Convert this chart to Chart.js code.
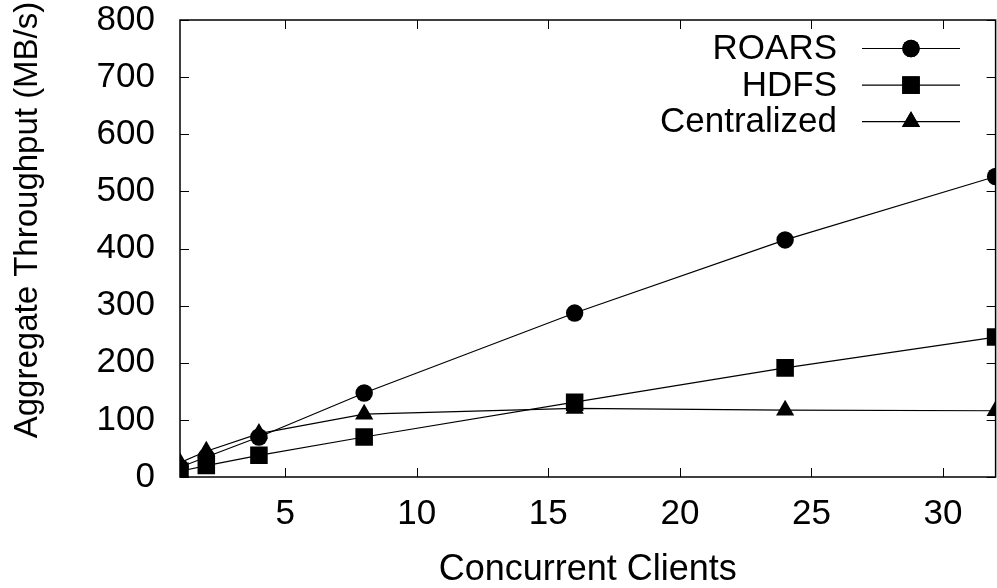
<!DOCTYPE html>
<html>
<head>
<meta charset="utf-8">
<script src="https://cdn.jsdelivr.net/npm/chart.js@4/dist/chart.umd.min.js"></script>
<style>
  html, body { margin: 0; padding: 0; background: #fff; overflow: hidden; }
  #wrap { width: 1008px; height: 588px; }
</style>
</head>
<body>
<div id="wrap"><canvas id="chart" width="1008" height="588"></canvas></div>
<script>
// Concurrent clients vs aggregate throughput
const clients = [1, 2, 4, 8, 16, 24, 32];
const roars = [17, 35, 70, 147, 287, 415, 526];
const hdfs = [10, 20, 38, 70, 131, 191, 245];
const centralized = [25, 45, 76, 110, 120, 117, 116];
const xTicks = [5, 10, 15, 20, 25, 30];
const yTicks = [0, 100, 200, 300, 400, 500, 600, 700, 800];

const FONT = '"Liberation Sans", Arial, sans-serif';
const SIZE = 35;
const Y_TITLE = 'Aggregate Throughput (MB/s)';

const series = [
    { label: 'ROARS', values: roars, style: 'circle', radius: 8.7 },
    { label: 'HDFS', values: hdfs, style: 'rect', radius: 12.4 },
    { label: 'Centralized', values: centralized, style: 'triangle', radius: 10.5 }
];

// gnuplot-like frame, inward ticks, y title and legend
const framePlugin = {
    id: 'frame',
    afterDraw(chart) {
        const { ctx, chartArea: a, scales } = chart;
        ctx.save();
        ctx.strokeStyle = '#000';
        ctx.lineWidth = 1.5;
        ctx.strokeRect(a.left, a.top, a.right - a.left, a.bottom - a.top);
        ctx.beginPath();
        xTicks.forEach(v => {
            const x = Math.round(scales.x.getPixelForValue(v)) + 0.5;
            ctx.moveTo(x, a.bottom); ctx.lineTo(x, a.bottom - 9);
            ctx.moveTo(x, a.top); ctx.lineTo(x, a.top + 9);
        });
        yTicks.forEach(v => {
            const y = Math.round(scales.y.getPixelForValue(v)) + 0.5;
            ctx.moveTo(a.left, y); ctx.lineTo(a.left + 9, y);
            ctx.moveTo(a.right, y); ctx.lineTo(a.right - 9, y);
        });
        ctx.lineWidth = 1;
        ctx.stroke();

        ctx.fillStyle = '#000';
        ctx.textBaseline = 'middle';

        // y axis title
        ctx.save();
        ctx.translate(28, 220);
        ctx.rotate(-Math.PI / 2);
        ctx.textAlign = 'center';
        ctx.font = '33px ' + FONT;
        ctx.fillText(Y_TITLE, 0, 0);
        ctx.restore();

        // legend
        ctx.font = SIZE + 'px ' + FONT;
        ctx.textAlign = 'right';
        series.forEach((s, i) => {
            const y = 48.5 + i * 36.6;
            ctx.fillText(s.label, 837, y + 1);
            ctx.beginPath();
            ctx.moveTo(862, y);
            ctx.lineTo(960, y);
            ctx.lineWidth = 1.2;
            ctx.stroke();
            Chart.helpers.drawPoint(ctx, { pointStyle: s.style, radius: s.radius, borderWidth: 0 }, 911, y);
            ctx.fill();
        });
        ctx.restore();
    }
};

new Chart(document.getElementById('chart'), {
    type: 'line',
    data: {
        datasets: series.map(s => ({
            label: s.label,
            data: clients.map((c, i) => ({ x: c, y: s.values[i] })),
            borderColor: '#000',
            backgroundColor: '#000',
            borderWidth: 1.2,
            pointStyle: s.style,
            pointRadius: s.radius,
            pointBorderWidth: 0,
            pointBackgroundColor: '#000',
            tension: 0,
            clip: 0
        }))
    },
    options: {
        responsive: false,
        animation: false,
        layout: { padding: { top: 20, right: 6, left: 0, bottom: 0 } },
        plugins: { legend: { display: false }, tooltip: { enabled: false } },
        scales: {
            x: {
                type: 'linear',
                min: 1,
                max: 32,
                afterBuildTicks: axis => { axis.ticks = xTicks.map(v => ({ value: v })); },
                afterFit: axis => { axis.height = 111; axis.paddingLeft = 0; axis.paddingRight = 0; },
                grid: { display: false },
                border: { display: false },
                ticks: { color: '#000', font: { family: FONT, size: SIZE }, padding: 8, maxRotation: 0 },
                title: { display: true, text: 'Concurrent Clients', color: '#000', font: { family: FONT, size: 36 }, padding: { top: 0, bottom: -4 } }
            },
            y: {
                min: 0,
                max: 800,
                afterBuildTicks: axis => { axis.ticks = yTicks.map(v => ({ value: v })); },
                afterFit: axis => { axis.width = 180; axis.paddingTop = 0; axis.paddingBottom = 0; },
                grid: { display: false },
                border: { display: false },
                ticks: { color: '#000', font: { family: FONT, size: SIZE }, padding: 17 }
            }
        }
    },
    plugins: [framePlugin]
});
</script>
</body>
</html>
